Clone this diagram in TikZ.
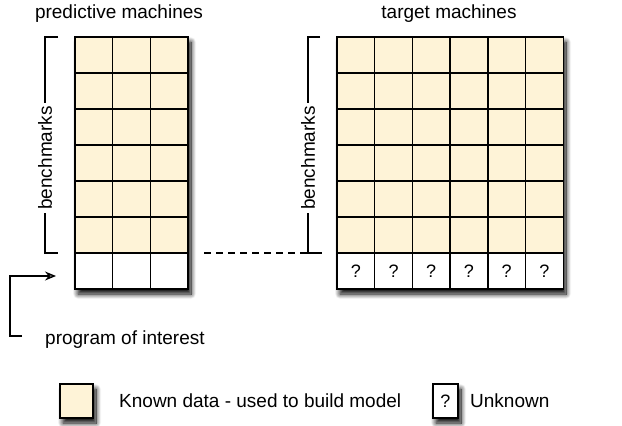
\documentclass[tikz,border=0pt]{standalone}
\usepackage{fontspec}
\setmainfont{Liberation Sans}
\usetikzlibrary{arrows.meta,shadows.blur}
\definecolor{known}{RGB}{254,243,215}

\begin{document}
\begin{tikzpicture}[x=1pt, y=-1pt,
    cell/.style={draw, line width=1.4pt, fill=known, inner sep=0pt,
        minimum width=37.7pt, minimum height=36pt, font=\fontsize{18}{20}\selectfont},
    unknown/.style={cell, fill=white},
    txt/.style={font=\fontsize{19}{22}\selectfont, inner sep=0pt},
    bracket/.style={line width=1.3pt},
    softshadow/.style={blur shadow={shadow xshift=3pt, shadow yshift=-5pt,
        shadow blur radius=5pt, shadow opacity=100, shadow blur steps=12}}
]
\useasboundingbox (0,0) rectangle (622,426);

% machine grids, with a shadow under each
\fill[white, softshadow] (75,37) rectangle (188,289);
\fill[white, softshadow] (337,37) rectangle (563,289);
\foreach \r in {1,...,6} {
  \foreach \c in {1,2,3}
    \node[cell] (p-\r-\c) at ({75+(\c-0.5)*37.7},{37+(\r-0.5)*36}) {};
  \foreach \c in {1,...,6}
    \node[cell] (t-\r-\c) at ({337+(\c-0.5)*37.7},{37+(\r-0.5)*36}) {};
}
\foreach \c in {1,2,3}
  \node[unknown] (p-7-\c) at ({75+(\c-0.5)*37.7},271) {};
\foreach \c in {1,...,6}
  \node[unknown] (t-7-\c) at ({337+(\c-0.5)*37.7},271) {?};

% titles
\node[txt, anchor=base] (p-title) at (119,18) {predictive machines};
\node[txt, anchor=base] (t-title) at (449,18) {target machines};

% benchmark brackets
\coordinate (pb-top) at (58,37);
\coordinate (pb-bot) at (58,253);
\coordinate (tb-top) at (320,37);
\coordinate (tb-bot) at (322,253);
\coordinate (dash-start) at (204,253);
\draw[bracket] (pb-top) -- ++(-13,0) |- (pb-bot);
\draw[bracket] (tb-top) -- ++(-12,0) |- (tb-bot);
\draw[bracket, dash pattern=on 7pt off 5pt] (dash-start) -- (308,253);
\node[txt, rotate=90, fill=white, inner sep=3pt] (pb-label) at (45,158) {benchmarks};
\node[txt, rotate=90, fill=white, inner sep=3pt] (tb-label) at (308,158) {benchmarks};

% program of interest
\coordinate (poi-end) at (22,336);
\coordinate (poi-tip) at (56,276);
\draw[bracket, -{Stealth[length=11pt, width=9pt]}] (poi-end) -- (10,336) |- (poi-tip);
\node[txt, anchor=base west] (poi) at (45,344) {program of interest};

% legend
\node[cell, softshadow, minimum width=33pt, minimum height=34pt] (key-known) at (76.5,401) {};
\node[txt, anchor=west] (key-known-txt) at (119,401) {Known data - used to build model};
\node[unknown, softshadow, minimum width=25pt, minimum height=34pt] (key-unknown) at (445.5,401) {?};
\node[txt, anchor=west] (key-unknown-txt) at (470,401) {Unknown};
\end{tikzpicture}
\end{document}
